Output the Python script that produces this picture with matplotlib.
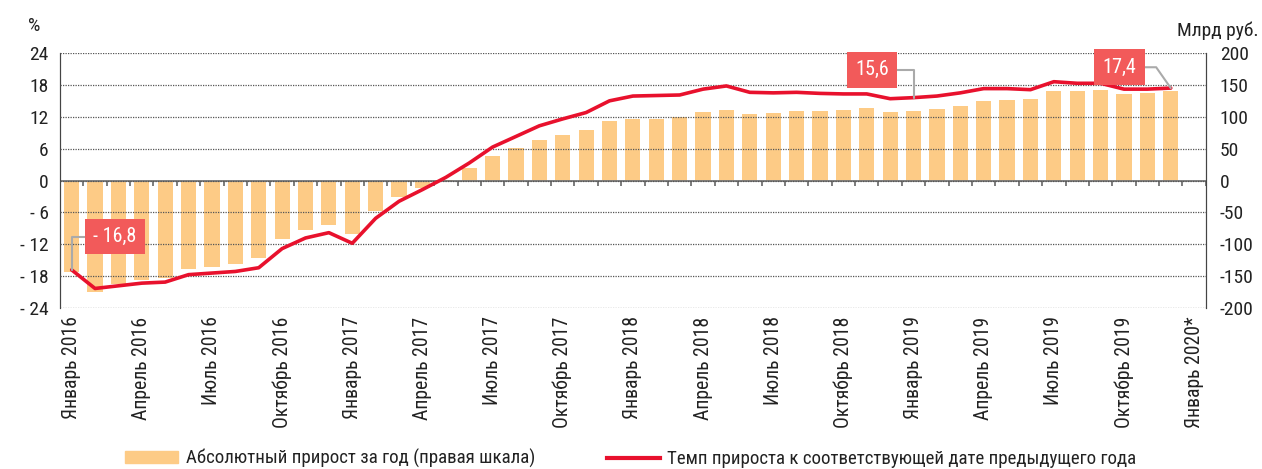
import matplotlib
matplotlib.use("Agg")
import matplotlib.pyplot as plt
from matplotlib.patches import Patch
from matplotlib.lines import Line2D
import numpy as np

plt.rcParams["font.family"] = ["Liberation Sans Narrow", "Roboto Condensed", "DejaVu Sans"]

month_names = ["Январь", "Февраль", "Март", "Апрель", "Май", "Июнь",
               "Июль", "Август", "Сентябрь", "Октябрь", "Ноябрь", "Декабрь"]
months = [f"{m} {y}" for y in (2016, 2017, 2018, 2019) for m in month_names] + ["Январь 2020*"]

# absolute growth over a year, bln rub (right scale); Jan 2020 has no value
abs_growth = [-143, -174, -162, -156, -152, -138, -135, -131, -122, -92, -77, -69,
              -83, -47, -25, -12, 1, 19, 38, 51, 63, 72, 80, 93,
              97, 97, 100, 107, 111, 105, 106, 109, 109, 111, 113, 108,
              109, 112, 117, 125, 127, 128, 140, 140, 142, 135, 137, 141, np.nan]

# growth rate vs same date of previous year, %
growth_rate = [-16.8, -20.3, -19.8, -19.3, -19.1, -17.7, -17.4, -17.1, -16.4, -12.8, -10.8, -9.8,
               -11.8, -7.1, -3.9, -1.7, 0.6, 3.3, 6.3, 8.3, 10.3, 11.6, 12.8, 15.0,
               15.9, 16.0, 16.1, 17.2, 17.8, 16.6, 16.5, 16.6, 16.4, 16.3, 16.3, 15.4,
               15.6, 15.9, 16.5, 17.3, 17.3, 17.1, 18.6, 18.3, 18.3, 17.2, 17.2, 17.4, np.nan]

left_ticks = [24, 18, 12, 6, 0, -6, -12, -18, -24]
left_labels = ["24", "18", "12", "6", "0", "- 6", "- 12", "- 18", "- 24"]
right_ticks = [200, 150, 100, 50, 0, -50, -100, -150, -200]

callouts = [(0, "- 16,8", (31, 24), "angle,angleA=0,angleB=90"),
            (36, "15,6", (-30, 20), "angle,angleA=0,angleB=90"),
            (47, "17,4", (-37, 15), "angle,angleA=0,angleB=-55")]

bar_color = "#FDCB86"
line_color = "#E8112D"
box_color = "#F25A5A"
grid_color = "#555555"

x = np.arange(len(months))

fig = plt.figure(figsize=(12.62, 4.69), dpi=100)
ax = fig.add_axes([0.0475, 0.343, 0.908, 0.544])
ax2 = ax.twinx()

ax2.bar(x, abs_growth, width=0.65, color=bar_color, zorder=1)
ax2.set_ylim(-200, 200)
ax2.set_yticks(right_ticks)
ax2.set_yticklabels([str(t) for t in right_ticks])

ax.set_zorder(ax2.get_zorder() + 1)
ax.patch.set_visible(False)

ax.set_ylim(-24, 24)
ax.set_xlim(-0.5, len(months) - 0.5)
ax.set_yticks(left_ticks)
ax.set_yticklabels(left_labels)
ax.grid(axis="y", color=grid_color, linestyle=(0, (1, 1)), linewidth=0.9)
ax.set_axisbelow(False)

ax.axhline(0, color="#777777", linewidth=1.3, zorder=2)
boundaries = np.arange(len(months)) + 0.5
ax.vlines(boundaries, -1.1, 0, color="#666666", linewidth=1.2, zorder=2)

ax.plot(x, growth_rate, color=line_color, linewidth=2.6, zorder=4, solid_capstyle="round")

for idx, label, offset, conn in callouts:
    ax.annotate(label, xy=(idx, growth_rate[idx]), xytext=offset, textcoords="offset points",
                ha="center", va="center", color="white", fontsize=14.5, zorder=6,
                bbox=dict(boxstyle="square,pad=0.42", fc=box_color, ec="none"),
                arrowprops=dict(arrowstyle="-", color="#AAAAAA", lw=1.5, connectionstyle=conn,
                                shrinkA=0, shrinkB=0))

ax.set_xticks(x[::3])
ax.set_xticklabels(months[::3], rotation=90, fontsize=14.2, color="#222222")
ax.tick_params(axis="x", length=0, pad=6)
ax.tick_params(axis="y", length=0, labelsize=14, labelcolor="#222222", pad=8)
ax2.tick_params(axis="y", length=0, labelsize=14, labelcolor="#222222", pad=10)

for a in (ax, ax2):
    a.spines["top"].set_visible(False)
    a.spines["bottom"].set_visible(False)
    a.spines["left"].set_color("#444444")
    a.spines["right"].set_color("#444444")

fig.text(0.027, 0.945, "%", fontsize=14, color="#222222", ha="center", va="center")
fig.text(0.997, 0.935, "Млрд руб.", fontsize=14, color="#222222", ha="right", va="center")

handles = [Patch(color=bar_color), Line2D([0], [0], color=line_color, linewidth=3)]
labels = ["Абсолютный прирост за год (правая шкала)", "Темп прироста к соответствующей дате предыдущего года"]
fig.legend(handles, labels, loc="center", bbox_to_anchor=(0.5, 0.022), ncol=2, frameon=False,
           fontsize=13.6, handlelength=2.8, handleheight=0.6, handletextpad=0.4, columnspacing=3.8,
           labelcolor="#222222")

fig.savefig("out.png", dpi=100)
